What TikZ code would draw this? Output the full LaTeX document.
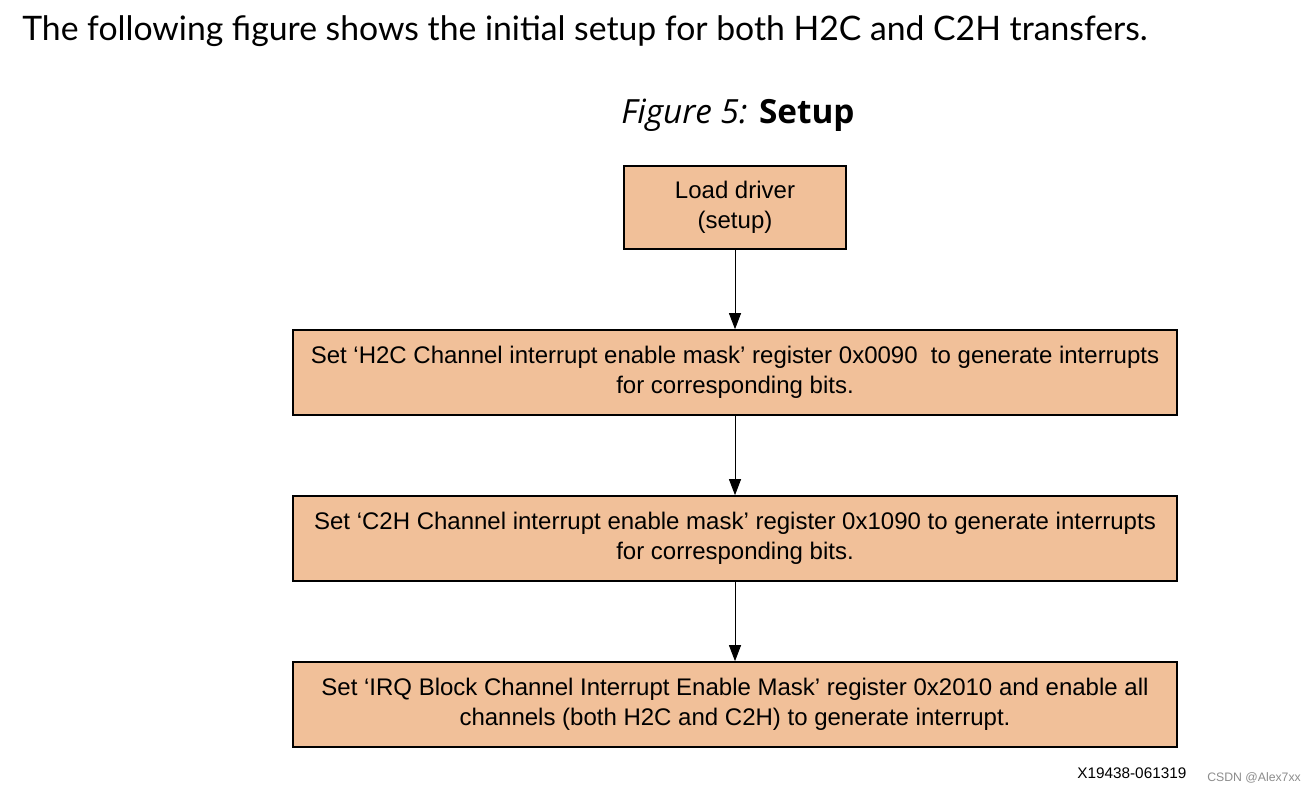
\documentclass[tikz,border=0pt]{standalone}
\usepackage{fontspec}
\setmainfont{Liberation Sans}
\newfontfamily\headfont{Lato}
\newfontfamily\titlefont{Open Sans}
\usetikzlibrary{arrows.meta,positioning}
\definecolor{boxfill}{RGB}{241,192,153}
\begin{document}
\begin{tikzpicture}[x=0.75pt,y=-0.75pt,
    stepbox/.style={draw=black, line width=1.5pt, fill=boxfill, align=center,
      inner sep=0pt, font=\fontsize{18}{22.5}\selectfont},
    flow/.style={-{Triangle[length=12pt,width=9pt]}, line width=0.7pt}]
    \useasboundingbox (0,0) rectangle (1314,794);

    % heading and caption
    \node[anchor=base west, inner sep=0pt, font=\headfont\fontsize{25.3}{30}\selectfont] (head) at (22,40)
        {The following figure shows the initial setup for both H2C and C2H transfers.};
    \node[anchor=base, inner sep=0pt, font=\titlefont\fontsize{25}{30}\selectfont] (caption) at (738,123)
        {\textit{Figure 5:} \textbf{Setup}};

    % flow boxes
    \node[stepbox, minimum width=166.5pt, minimum height=62pt] (load) at (735,207.5)
        {Load driver\\(setup)};
    \node[stepbox, minimum width=663pt, minimum height=63.5pt] (h2c) at (735,372.5)
        {Set ‘H2C Channel interrupt enable mask’ register 0x0090\ \ to generate interrupts\\for corresponding bits.};
    \node[stepbox, minimum width=663pt, minimum height=63.5pt] (c2h) at (735,538.5)
        {Set ‘C2H Channel interrupt enable mask’ register 0x1090 to generate interrupts\\for corresponding bits.};
    \node[stepbox, minimum width=663pt, minimum height=63.5pt] (irq) at (735,704.5)
        {Set ‘IRQ Block Channel Interrupt Enable Mask’ register 0x2010 and enable all\\channels (both H2C and C2H) to generate interrupt.};

    \draw[flow] (load) -- (h2c);
    \draw[flow] (h2c) -- (c2h);
    \draw[flow] (c2h) -- (irq);

    % footer marks
    \node[anchor=base west, inner sep=0pt, font=\fontsize{11.5}{14}\selectfont] (figid) at (1077,778)
        {X19438-061319};
    \node[anchor=base west, inner sep=0pt, text=black!45, font=\fontsize{9.2}{11}\selectfont] (mark) at (1207,781)
        {CSDN @Alex7xx};
\end{tikzpicture}
\end{document}
